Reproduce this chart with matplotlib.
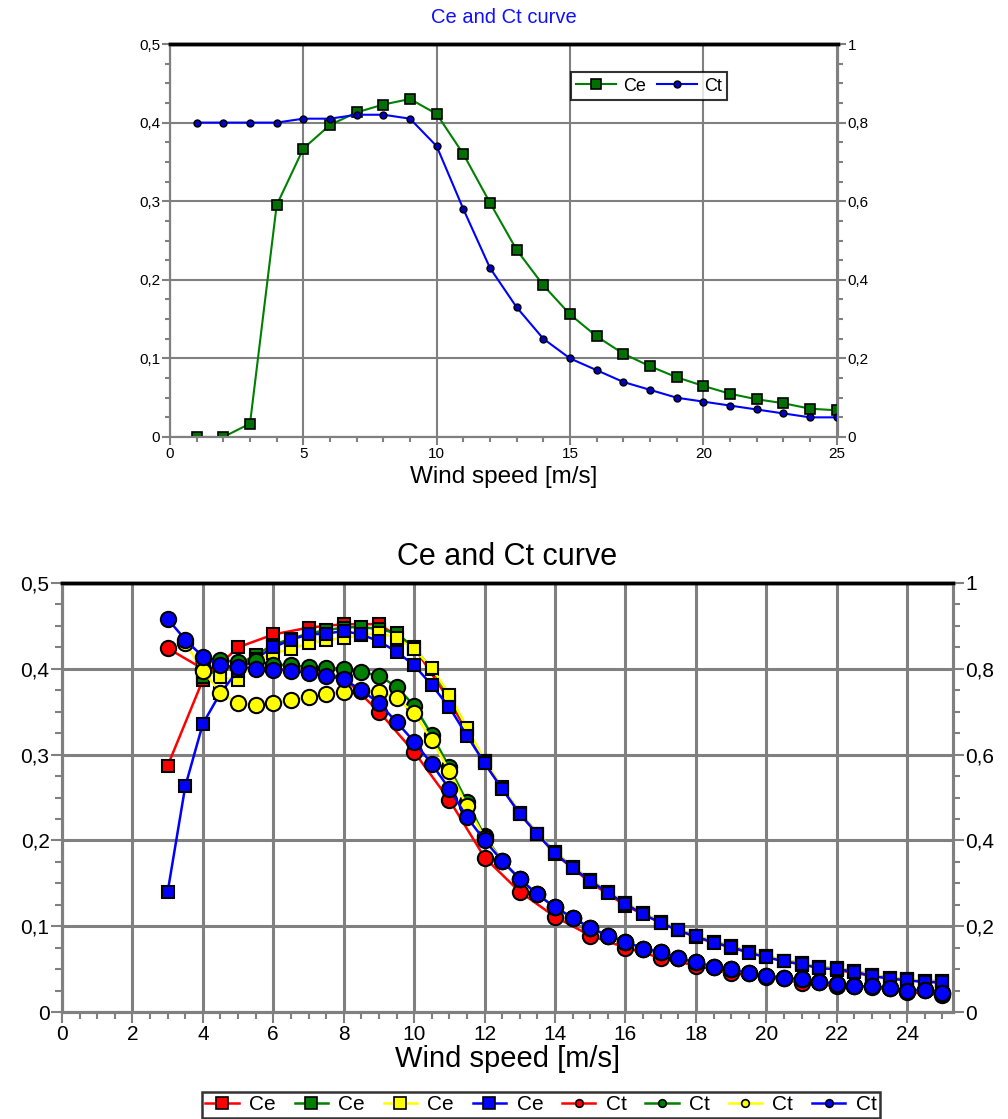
import numpy as np
import matplotlib
matplotlib.use("Agg")
import matplotlib.pyplot as plt
from matplotlib.ticker import MultipleLocator, FuncFormatter

plt.rcParams['font.family'] = ['Liberation Sans', 'DejaVu Sans']

# ---- top chart data (Ce on left axis, Ct on right axis) ----
ws_top = list(range(1, 26))
ce_top = [0.0, 0.0, 0.017, 0.295, 0.367, 0.397, 0.413, 0.423, 0.43, 0.411,
          0.36, 0.298, 0.238, 0.193, 0.156, 0.128, 0.106, 0.09, 0.076, 0.065,
          0.055, 0.048, 0.043, 0.036, 0.034]
ct_top = [0.80, 0.80, 0.80, 0.80, 0.81, 0.81, 0.82, 0.82, 0.81, 0.74,
          0.58, 0.43, 0.33, 0.25, 0.20, 0.17, 0.14, 0.12, 0.10, 0.09,
          0.08, 0.07, 0.06, 0.05, 0.05]

# ---- bottom chart data ----
ws_int = list(range(3, 26))             # 1 m/s bins (red series)
ws_half3 = np.arange(3, 25.01, 0.5)     # 0.5 m/s bins from 3
ws_half35 = np.arange(3.5, 25.01, 0.5)  # from 3.5
ws_half4 = np.arange(4, 25.01, 0.5)     # from 4

ce_red = [0.287, 0.387, 0.425, 0.44, 0.448, 0.452, 0.452, 0.425, 0.363, 0.29,
          0.231, 0.184, 0.151, 0.124, 0.104, 0.087, 0.075, 0.064, 0.055, 0.049,
          0.042, 0.037, 0.034]
ce_green = [0.39, 0.40, 0.405, 0.416, 0.428, 0.435, 0.441, 0.445, 0.448, 0.449,
            0.446, 0.442, 0.424, 0.40, 0.368, 0.33, 0.292, 0.261, 0.232, 0.208,
            0.186, 0.169, 0.154, 0.14, 0.127, 0.115, 0.105, 0.096, 0.089, 0.082,
            0.077, 0.07, 0.065, 0.06, 0.057, 0.052, 0.051, 0.048, 0.043, 0.04,
            0.038, 0.036, 0.036]
ce_yellow = [0.396, 0.39, 0.387, 0.41, 0.418, 0.423, 0.43, 0.433, 0.436, 0.439,
             0.442, 0.436, 0.423, 0.401, 0.37, 0.331, 0.293, 0.262, 0.232, 0.208,
             0.186, 0.169, 0.154, 0.14, 0.127, 0.115, 0.105, 0.096, 0.089, 0.082,
             0.077, 0.07, 0.065, 0.06, 0.057, 0.052, 0.051, 0.048, 0.043, 0.04,
             0.038, 0.036, 0.036]
ce_blue = [0.14, 0.263, 0.336, 0.372, 0.398, 0.412, 0.425, 0.434, 0.44, 0.441,
           0.444, 0.44, 0.432, 0.42, 0.404, 0.381, 0.355, 0.322, 0.29, 0.26,
           0.231, 0.207, 0.185, 0.168, 0.153, 0.139, 0.126, 0.114, 0.104, 0.095,
           0.088, 0.081, 0.076, 0.069, 0.064, 0.059, 0.056, 0.051, 0.05, 0.047,
           0.042, 0.039, 0.037, 0.035, 0.035]

ct_red = [0.848, 0.80, 0.804, 0.80, 0.794, 0.78, 0.70, 0.606, 0.494, 0.36,
          0.28, 0.222, 0.178, 0.15, 0.126, 0.108, 0.09, 0.082, 0.068, 0.06,
          0.058, 0.046, 0.04]
ct_green = [0.824, 0.82, 0.816, 0.818, 0.81, 0.808, 0.804, 0.802, 0.80, 0.792,
            0.784, 0.758, 0.714, 0.646, 0.57, 0.49, 0.41, 0.352, 0.31, 0.274,
            0.244, 0.22, 0.196, 0.178, 0.164, 0.148, 0.14, 0.126, 0.116, 0.106,
            0.10, 0.09, 0.084, 0.08, 0.076, 0.07, 0.066, 0.06, 0.06, 0.056,
            0.05, 0.052, 0.044]
ct_yellow = [0.86, 0.796, 0.744, 0.72, 0.716, 0.72, 0.728, 0.734, 0.742, 0.746,
             0.748, 0.746, 0.732, 0.696, 0.634, 0.562, 0.48, 0.406, 0.352, 0.31,
             0.274, 0.244, 0.22, 0.196, 0.178, 0.164, 0.148, 0.14, 0.126, 0.116,
             0.106, 0.10, 0.09, 0.084, 0.08, 0.076, 0.07, 0.066, 0.06, 0.06,
             0.056, 0.05, 0.052, 0.044]
ct_blue = [0.916, 0.868, 0.828, 0.808, 0.804, 0.80, 0.798, 0.796, 0.79, 0.784,
           0.776, 0.75, 0.72, 0.676, 0.63, 0.578, 0.52, 0.454, 0.40, 0.352,
           0.31, 0.274, 0.244, 0.22, 0.196, 0.178, 0.164, 0.148, 0.14, 0.126,
           0.116, 0.106, 0.10, 0.09, 0.084, 0.08, 0.076, 0.07, 0.066, 0.06,
           0.06, 0.056, 0.05, 0.052, 0.044]

GRID = '#808080'


def comma(v, pos):
    return ('%g' % round(v, 3)).replace('.', ',')


def style_axes(ax, ax2, xmax, xmajor, xminor, fs, glw, tlen):
    ax.set_xlim(0, xmax)
    ax.set_ylim(0, 0.5)
    ax2.set_ylim(0, 1)
    ax.xaxis.set_major_locator(MultipleLocator(xmajor))
    ax.xaxis.set_minor_locator(MultipleLocator(xminor))
    ax.yaxis.set_major_locator(MultipleLocator(0.1))
    ax.yaxis.set_minor_locator(MultipleLocator(0.025))
    ax2.yaxis.set_major_locator(MultipleLocator(0.2))
    ax2.yaxis.set_minor_locator(MultipleLocator(0.05))
    ax.yaxis.set_major_formatter(FuncFormatter(comma))
    ax2.yaxis.set_major_formatter(FuncFormatter(comma))
    ax.grid(True, which='major', color=GRID, lw=glw)
    ax.set_axisbelow(True)
    for a in (ax, ax2):
        a.tick_params(which='major', direction='out', length=tlen, width=1.5,
                      color=GRID, labelsize=fs, pad=1)
        a.tick_params(which='minor', direction='out', length=tlen * 0.6,
                      width=1.5, color=GRID)
        for s in ('left', 'right', 'bottom'):
            a.spines[s].set_color(GRID)
            a.spines[s].set_linewidth(glw)
        a.spines['top'].set_color('black')
        a.spines['top'].set_linewidth(2.5)


fig = plt.figure(figsize=(10.08, 11.19), dpi=100)

# ================= top chart =================
ax1 = fig.add_axes([170 / 1008, 1 - 437 / 1119, 668 / 1008, 393 / 1119])
ax1b = ax1.twinx()
l1, = ax1.plot(ws_top, ce_top, color='#008000', lw=1.5, marker='s', ms=7.5,
               mfc='#007000', mec='black', mew=1.2, label='Ce')
l2, = ax1b.plot(ws_top, ct_top, color='#0000ff', lw=1.5, marker='o', ms=5,
                mfc='#0000c0', mec='black', mew=1.0, label='Ct')
style_axes(ax1, ax1b, 25.05, 5, 1, 11, 1.5, 6)
ax1.set_xlabel('Wind speed [m/s]', fontsize=17.5, labelpad=4)
ax1.set_title('Ce and Ct curve', color='#1010ff', fontsize=14.5, pad=15)
leg1 = ax1b.legend(handles=[l1, l2], loc='center', bbox_to_anchor=(0.717, 0.893),
                   ncol=2, fontsize=13, frameon=True, fancybox=False,
                   edgecolor='black', handlelength=2.2, columnspacing=0.6,
                   handletextpad=0.4, borderpad=0.3, borderaxespad=0)
leg1.get_frame().set_linewidth(1.5)

# ================= bottom chart =================
ax3 = fig.add_axes([62 / 1008, 1 - 1012 / 1119, 891 / 1008, 429 / 1119])
ax3b = ax3.twinx()
sq = dict(marker='s', ms=9, mec='black', mew=1.5, lw=1.8)
ci = dict(marker='o', ms=11, mec='black', mew=1.5, lw=1.8)
h = []
h += ax3.plot(ws_int, ce_red, color='#ff0000', mfc='#ff0000', label='Ce', **sq)
h += ax3.plot(ws_half4, ce_green, color='#007f00', mfc='#007f00', label='Ce', **sq)
h += ax3.plot(ws_half4, ce_yellow, color='#ffff00', mfc='#ffff00', label='Ce', **sq)
h += ax3.plot(ws_half3, ce_blue, color='#0000ff', mfc='#0000ff', label='Ce', **sq)
h += ax3b.plot(ws_int, ct_red, color='#ff0000', mfc='#ff0000', label='Ct', **ci)
h += ax3b.plot(ws_half4, ct_green, color='#007f00', mfc='#007f00', label='Ct', **ci)
h += ax3b.plot(ws_half35, ct_yellow, color='#ffff00', mfc='#ffff00', label='Ct', **ci)
h += ax3b.plot(ws_half3, ct_blue, color='#0000ff', mfc='#0000ff', label='Ct', **ci)
style_axes(ax3, ax3b, 25.3, 2, 0.5, 15, 2.2, 8)
ax3.set_xlabel('Wind speed [m/s]', fontsize=21, labelpad=1)
ax3.set_title('Ce and Ct curve', color='black', fontsize=22, pad=13)

leg_handles = []
for line in h:
    leg_handles.append(plt.Line2D([], [], color=line.get_color(), lw=1.8,
                                  marker=line.get_marker(),
                                  ms=8 if line.get_marker() == 's' else 5.5,
                                  mfc=line.get_markerfacecolor(), mec='black',
                                  mew=1.2, label=line.get_label()))
leg2 = fig.legend(handles=leg_handles, loc='center', bbox_to_anchor=(541 / 1008, 1 - 1105 / 1119),
                  ncol=8, fontsize=15, frameon=True, fancybox=False,
                  edgecolor='black', handlelength=1.6, columnspacing=0.9,
                  handletextpad=0.5, borderpad=0.15)
leg2.get_frame().set_linewidth(1.8)

fig.savefig('out.png', dpi=100)
